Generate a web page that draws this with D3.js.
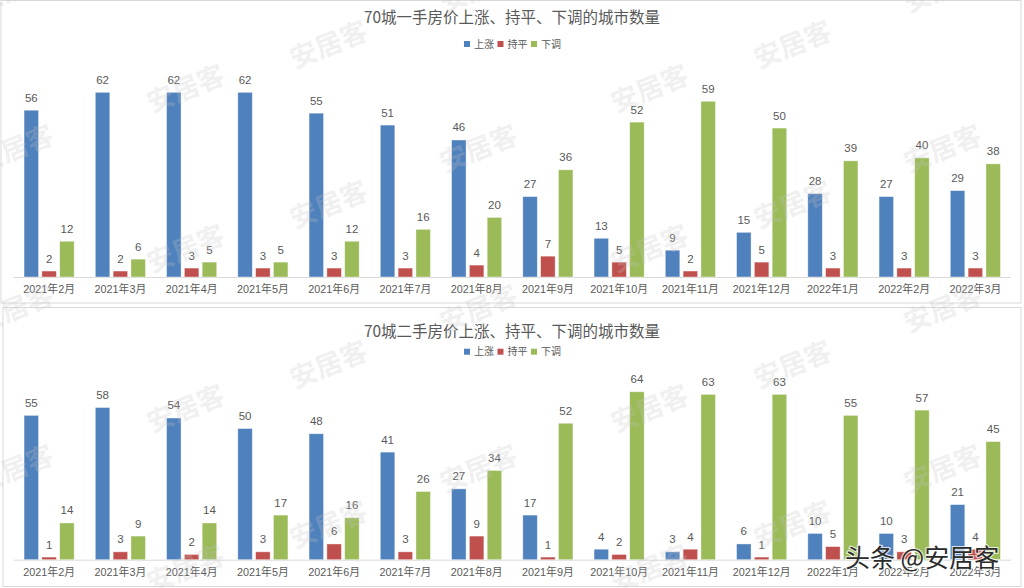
<!DOCTYPE html>
<html><head><meta charset="utf-8">
<script src="https://cdn.jsdelivr.net/npm/d3@7"></script>
<style>
html,body{margin:0;padding:0;background:#fff;}
svg{display:block;}
</style></head>
<body>
<svg id="c" width="1024" height="588"></svg>
<script>
const categories = ["2021年2月","2021年3月","2021年4月","2021年5月","2021年6月","2021年7月","2021年8月","2021年9月","2021年10月","2021年11月","2021年12月","2022年1月","2022年2月","2022年3月"];
const seriesNames = ["上涨","持平","下调"];
const seriesColors = ["#4f81bd","#c0504d","#9bbb59"];
const titles = ["70城一手房价上涨、持平、下调的城市数量","70城二手房价上涨、持平、下调的城市数量"];
const newUp   = [56,62,62,62,55,51,46,27,13,9,15,28,27,29];
const newFlat = [2,2,3,3,3,3,4,7,5,2,5,3,3,3];
const newDown = [12,6,5,5,12,16,20,36,52,59,50,39,40,38];
const usedUp   = [55,58,54,50,48,41,27,17,4,3,6,10,10,21];
const usedFlat = [1,3,2,3,6,3,9,1,2,4,1,5,3,4];
const usedDown = [14,9,14,17,16,26,34,52,64,63,63,55,57,45];
const watermarkText = "安居客";
const creditText = "头条 @安居客";

const svg = d3.select("#c");
const FONT = "'Liberation Sans','Noto Sans CJK SC',Arial,sans-serif";
const CJK = "'Noto Sans CJK SC','Liberation Sans',sans-serif";
const textColor = "#595959";

svg.append("rect").attr("width",1024).attr("height",588).attr("fill","#fff");

// panel frames
svg.append("rect").attr("x",1).attr("y",0.5).attr("width",1020).attr("height",302.5)
  .attr("fill","none").attr("stroke","#d9d9d9");
svg.append("rect").attr("x",3).attr("y",307.5).attr("width",1018).attr("height",279)
  .attr("fill","none").attr("stroke","#d9d9d9");

const panels = [
  {title:titles[0], data:[newUp,newFlat,newDown], base:277, top:68.5, titleY:22.5, legendY:44},
  {title:titles[1], data:[usedUp,usedFlat,usedDown], base:559.7, top:376, titleY:337, legendY:351.7}
];

const x0 = d3.scaleBand().domain(categories).range([13.5,1011]).paddingInner(0.25).paddingOuter(0.125);
const x1 = d3.scaleBand().domain(seriesNames).range([0,x0.bandwidth()]).paddingInner(0.185).paddingOuter(0.0925);

panels.forEach(p => {
  const g = svg.append("g");
  const y = d3.scaleLinear().domain([0,70]).range([p.base,p.top]);

  g.append("text").attr("x",512).attr("y",p.titleY).attr("text-anchor","middle")
    .attr("font-family",CJK).attr("font-size",15.5).attr("fill",textColor).text(p.title);

  // legend
  const lg = g.append("g");
  seriesNames.forEach((s,i) => {
    const lx = 464 + i*33.5;
    lg.append("rect").attr("x",lx).attr("y",p.legendY-3).attr("width",6).attr("height",6).attr("fill",seriesColors[i]);
    lg.append("text").attr("x",lx+10).attr("y",p.legendY+3.5).attr("font-family",CJK).attr("font-size",10)
      .attr("fill",textColor).text(s);
  });

  // baseline
  g.append("line").attr("x1",13.5).attr("x2",1011).attr("y1",p.base+0.5).attr("y2",p.base+0.5)
    .attr("stroke","#d9d9d9").attr("stroke-width",1);

  // bars
  categories.forEach((c,ci) => {
    seriesNames.forEach((s,si) => {
      const v = p.data[si][ci];
      const bx = x0(c) + x1(s);
      g.append("rect").attr("x",bx).attr("y",y(v)).attr("width",x1.bandwidth()).attr("height",y(0)-y(v))
        .attr("fill",seriesColors[si]).attr("stroke","#ffffff").attr("stroke-opacity",0.5).attr("stroke-width",0.8);
      g.append("text").attr("x",bx + x1.bandwidth()/2).attr("y",y(v)-8.5).attr("text-anchor","middle")
        .attr("font-family",FONT).attr("font-size",11.5).attr("fill",textColor).text(v);
    });
  });

  // category axis
  const ax = g.append("g").attr("transform",`translate(0,${p.base})`)
    .call(d3.axisBottom(x0).tickSize(0).tickPadding(0));
  ax.select(".domain").remove();
  ax.selectAll("text").attr("font-family",FONT).attr("font-size",10.8).attr("fill",textColor)
    .attr("dy",null).attr("y",16);
});

// watermarks
const wm = svg.append("g").attr("pointer-events","none");
const offsets = [[328,43],[185,87],[14,147]];
for (let k=-1;k<=3;k++){
  for (let i=-1;i<=2;i++){
    offsets.forEach(o => {
      const cx = o[0] + 464*i, cy = o[1] + 160*k;
      if (cx < -60 || cx > 1090 || cy < -40 || cy > 630) return;
      wm.append("text").attr("transform",`translate(${cx},${cy}) rotate(-22)`)
        .attr("text-anchor","middle").attr("dominant-baseline","central")
        .attr("font-family",CJK).attr("font-weight",700).attr("font-size",27)
        .attr("fill","#c4c4c4").attr("fill-opacity",0.25).text(watermarkText);
    });
  }
}

// credit overlay
svg.append("text").attr("x",845).attr("y",567).attr("font-family",CJK).attr("font-size",25)
  .attr("fill","#2b2b2b").attr("stroke","#ffffff").attr("stroke-width",2.2).attr("paint-order","stroke")
  .attr("stroke-opacity",0.8).text(creditText);
</script>
</body></html>
